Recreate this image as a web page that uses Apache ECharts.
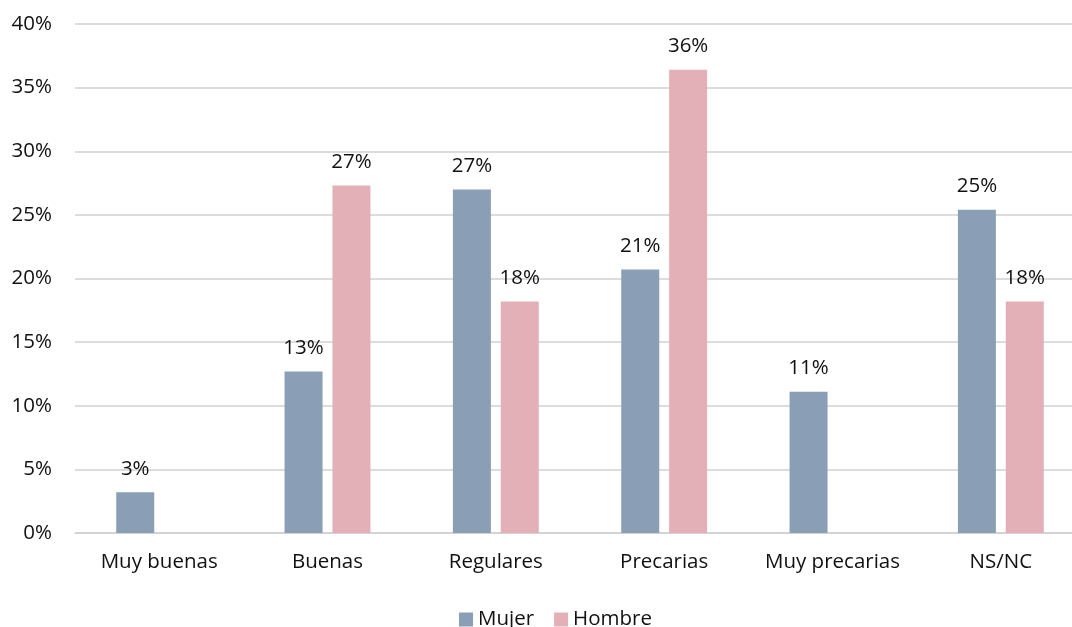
<!DOCTYPE html>
<html>
<head>
<meta charset="utf-8">
<script src="https://cdn.jsdelivr.net/npm/echarts@6/dist/echarts.min.js"></script>
<style>
  html, body { margin: 0; padding: 0; background: #fff; overflow: hidden; }
  #chart { width: 1072px; height: 627px; }
</style>
</head>
<body>
<div id="chart"></div>
<script>
// Condiciones (por sexo) — column chart, values in percent
var categories = ["Muy buenas", "Buenas", "Regulares", "Precarias", "Muy precarias", "NS/NC"];
var mujer = [3.2, 12.7, 27.0, 20.7, 11.1, 25.4];
var hombre = [null, 27.3, 18.2, 36.4, null, 18.2];
var yTicks = { min: 0, max: 40, interval: 5 };

(function () {
  var FONT = "'Open Sans', 'Liberation Sans', sans-serif";
  var SIZE = 20.5;
  var chart = echarts.init(document.getElementById("chart"), null, { renderer: "canvas" });

  function pct(v) { return Math.round(v) + "%"; }

  var barLabel = {
    show: true,
    position: "top",
    distance: 13,
    fontFamily: FONT,
    fontSize: SIZE,
    color: "#111",
    formatter: function (p) { return p.value == null ? "" : pct(p.value); }
  };

  chart.setOption({
    backgroundColor: "#fff",
    animation: false,
    // the plot runs past the right edge of the picture, as in the original
    grid: { left: 75, right: -13, top: 24, bottom: 94, outerBoundsMode: "none" },
    legend: {
      data: ["Mujer", "Hombre"],
      left: 454,
      top: 604,
      icon: "rect",
      itemWidth: 14,
      itemHeight: 14,
      itemGap: 20,
      textStyle: { fontFamily: FONT, fontSize: SIZE, color: "#111" }
    },
    xAxis: {
      type: "category",
      data: categories,
      axisLine: { show: true, lineStyle: { color: "#d0d0d0", width: 1.5 } },
      axisTick: { show: false },
      axisLabel: { interval: 0, fontFamily: FONT, fontSize: SIZE, color: "#111", margin: 19 }
    },
    yAxis: {
      type: "value",
      min: yTicks.min,
      max: yTicks.max,
      interval: yTicks.interval,
      axisLine: { show: false },
      axisTick: { show: false },
      splitLine: { lineStyle: { color: "#d0d0d0", width: 1.5 } },
      axisLabel: { fontFamily: FONT, fontSize: SIZE, color: "#111", margin: 23, formatter: function (v) { return v + "%"; } }
    },
    series: [
      {
        name: "Mujer",
        type: "bar",
        data: mujer,
        barWidth: 38,
        barGap: "26%",
        itemStyle: { color: "#8a9fb5" },
        label: barLabel
      },
      {
        name: "Hombre",
        type: "bar",
        data: hombre,
        barWidth: 38,
        itemStyle: { color: "#e3b0b8" },
        label: barLabel
      }
    ]
  });
})();
</script>
</body>
</html>
